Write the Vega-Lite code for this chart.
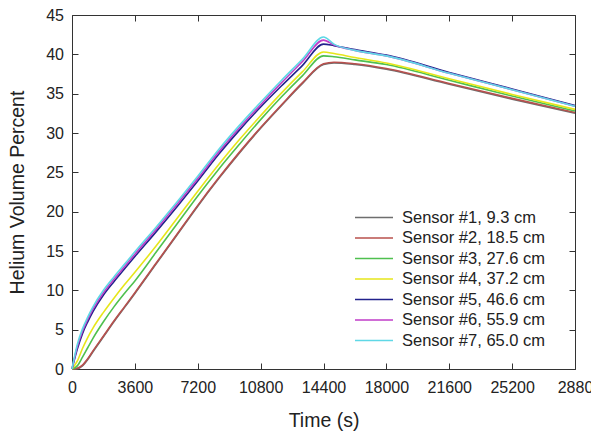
{
  "$schema": "https://vega.github.io/schema/vega-lite/v6.json",
  "width": 503,
  "height": 354,
  "autosize": "none",
  "padding": {"left": 72, "top": 15, "right": 16, "bottom": 70},
  "background": "white",
  "config": {
    "view": {"stroke": "#333", "strokeWidth": 1},
    "axis": {
      "grid": false,
      "domain": false,
      "offset": -6,
      "tickColor": "#333",
      "tickWidth": 1,
      "tickSize": 6,
      "labelFont": "Liberation Sans",
      "labelFontSize": 16,
      "labelColor": "#222",
      "titleFont": "Liberation Sans",
      "titleFontSize": 19.5,
      "titleFontWeight": "normal",
      "titleColor": "#222"
    },
    "legend": {
      "labelFont": "Liberation Sans",
      "labelFontSize": 16.5,
      "labelColor": "#222"
    }
  },
  "data": {
    "values": [
      {"t":0,"v":0,"s":"Sensor #1, 9.3 cm"},{"t":300,"v":0.05,"s":"Sensor #1, 9.3 cm"},{"t":600,"v":0.4,"s":"Sensor #1, 9.3 cm"},{"t":900,"v":1.2,"s":"Sensor #1, 9.3 cm"},{"t":1200,"v":2.2,"s":"Sensor #1, 9.3 cm"},{"t":1800,"v":4.1,"s":"Sensor #1, 9.3 cm"},{"t":2400,"v":6.0,"s":"Sensor #1, 9.3 cm"},{"t":3000,"v":7.8,"s":"Sensor #1, 9.3 cm"},{"t":3600,"v":9.6,"s":"Sensor #1, 9.3 cm"},{"t":4800,"v":13.3,"s":"Sensor #1, 9.3 cm"},{"t":6000,"v":17.0,"s":"Sensor #1, 9.3 cm"},{"t":7200,"v":20.7,"s":"Sensor #1, 9.3 cm"},{"t":8400,"v":24.2,"s":"Sensor #1, 9.3 cm"},{"t":9600,"v":27.5,"s":"Sensor #1, 9.3 cm"},{"t":10800,"v":30.6,"s":"Sensor #1, 9.3 cm"},{"t":12000,"v":33.5,"s":"Sensor #1, 9.3 cm"},{"t":13200,"v":36.3,"s":"Sensor #1, 9.3 cm"},{"t":14400,"v":38.7,"s":"Sensor #1, 9.3 cm"},{"t":15000,"v":38.9,"s":"Sensor #1, 9.3 cm"},{"t":16200,"v":38.7,"s":"Sensor #1, 9.3 cm"},{"t":18000,"v":38.1,"s":"Sensor #1, 9.3 cm"},{"t":21600,"v":36.2,"s":"Sensor #1, 9.3 cm"},{"t":25200,"v":34.3,"s":"Sensor #1, 9.3 cm"},{"t":28800,"v":32.5,"s":"Sensor #1, 9.3 cm"},
      {"t":0,"v":0,"s":"Sensor #2, 18.5 cm"},{"t":300,"v":0.1,"s":"Sensor #2, 18.5 cm"},{"t":600,"v":0.5,"s":"Sensor #2, 18.5 cm"},{"t":900,"v":1.3,"s":"Sensor #2, 18.5 cm"},{"t":1200,"v":2.3,"s":"Sensor #2, 18.5 cm"},{"t":1800,"v":4.2,"s":"Sensor #2, 18.5 cm"},{"t":2400,"v":6.1,"s":"Sensor #2, 18.5 cm"},{"t":3000,"v":7.9,"s":"Sensor #2, 18.5 cm"},{"t":3600,"v":9.7,"s":"Sensor #2, 18.5 cm"},{"t":4800,"v":13.4,"s":"Sensor #2, 18.5 cm"},{"t":6000,"v":17.1,"s":"Sensor #2, 18.5 cm"},{"t":7200,"v":20.8,"s":"Sensor #2, 18.5 cm"},{"t":8400,"v":24.3,"s":"Sensor #2, 18.5 cm"},{"t":9600,"v":27.6,"s":"Sensor #2, 18.5 cm"},{"t":10800,"v":30.7,"s":"Sensor #2, 18.5 cm"},{"t":12000,"v":33.6,"s":"Sensor #2, 18.5 cm"},{"t":13200,"v":36.4,"s":"Sensor #2, 18.5 cm"},{"t":14400,"v":38.8,"s":"Sensor #2, 18.5 cm"},{"t":15000,"v":39.0,"s":"Sensor #2, 18.5 cm"},{"t":16200,"v":38.8,"s":"Sensor #2, 18.5 cm"},{"t":18000,"v":38.2,"s":"Sensor #2, 18.5 cm"},{"t":21600,"v":36.3,"s":"Sensor #2, 18.5 cm"},{"t":25200,"v":34.4,"s":"Sensor #2, 18.5 cm"},{"t":28800,"v":32.6,"s":"Sensor #2, 18.5 cm"},
      {"t":0,"v":0,"s":"Sensor #3, 27.6 cm"},{"t":300,"v":0.4,"s":"Sensor #3, 27.6 cm"},{"t":600,"v":1.5,"s":"Sensor #3, 27.6 cm"},{"t":900,"v":2.7,"s":"Sensor #3, 27.6 cm"},{"t":1200,"v":3.9,"s":"Sensor #3, 27.6 cm"},{"t":1800,"v":6.0,"s":"Sensor #3, 27.6 cm"},{"t":2400,"v":7.9,"s":"Sensor #3, 27.6 cm"},{"t":3000,"v":9.6,"s":"Sensor #3, 27.6 cm"},{"t":3600,"v":11.2,"s":"Sensor #3, 27.6 cm"},{"t":4800,"v":14.8,"s":"Sensor #3, 27.6 cm"},{"t":6000,"v":18.4,"s":"Sensor #3, 27.6 cm"},{"t":7200,"v":22.0,"s":"Sensor #3, 27.6 cm"},{"t":8400,"v":25.4,"s":"Sensor #3, 27.6 cm"},{"t":9600,"v":28.6,"s":"Sensor #3, 27.6 cm"},{"t":10800,"v":31.7,"s":"Sensor #3, 27.6 cm"},{"t":12000,"v":34.6,"s":"Sensor #3, 27.6 cm"},{"t":13200,"v":37.3,"s":"Sensor #3, 27.6 cm"},{"t":14400,"v":39.8,"s":"Sensor #3, 27.6 cm"},{"t":15000,"v":39.7,"s":"Sensor #3, 27.6 cm"},{"t":16200,"v":39.3,"s":"Sensor #3, 27.6 cm"},{"t":18000,"v":38.7,"s":"Sensor #3, 27.6 cm"},{"t":21600,"v":36.7,"s":"Sensor #3, 27.6 cm"},{"t":25200,"v":34.7,"s":"Sensor #3, 27.6 cm"},{"t":28800,"v":32.8,"s":"Sensor #3, 27.6 cm"},
      {"t":0,"v":0,"s":"Sensor #4, 37.2 cm"},{"t":300,"v":1.0,"s":"Sensor #4, 37.2 cm"},{"t":600,"v":2.6,"s":"Sensor #4, 37.2 cm"},{"t":900,"v":4.0,"s":"Sensor #4, 37.2 cm"},{"t":1200,"v":5.2,"s":"Sensor #4, 37.2 cm"},{"t":1800,"v":7.2,"s":"Sensor #4, 37.2 cm"},{"t":2400,"v":9.0,"s":"Sensor #4, 37.2 cm"},{"t":3000,"v":10.7,"s":"Sensor #4, 37.2 cm"},{"t":3600,"v":12.3,"s":"Sensor #4, 37.2 cm"},{"t":4800,"v":15.6,"s":"Sensor #4, 37.2 cm"},{"t":6000,"v":19.1,"s":"Sensor #4, 37.2 cm"},{"t":7200,"v":22.6,"s":"Sensor #4, 37.2 cm"},{"t":8400,"v":26.0,"s":"Sensor #4, 37.2 cm"},{"t":9600,"v":29.2,"s":"Sensor #4, 37.2 cm"},{"t":10800,"v":32.2,"s":"Sensor #4, 37.2 cm"},{"t":12000,"v":35.1,"s":"Sensor #4, 37.2 cm"},{"t":13200,"v":37.8,"s":"Sensor #4, 37.2 cm"},{"t":14400,"v":40.3,"s":"Sensor #4, 37.2 cm"},{"t":15000,"v":40.1,"s":"Sensor #4, 37.2 cm"},{"t":16200,"v":39.6,"s":"Sensor #4, 37.2 cm"},{"t":18000,"v":38.9,"s":"Sensor #4, 37.2 cm"},{"t":21600,"v":36.9,"s":"Sensor #4, 37.2 cm"},{"t":25200,"v":34.9,"s":"Sensor #4, 37.2 cm"},{"t":28800,"v":33.0,"s":"Sensor #4, 37.2 cm"},
      {"t":0,"v":0,"s":"Sensor #5, 46.6 cm"},{"t":300,"v":2.5,"s":"Sensor #5, 46.6 cm"},{"t":600,"v":4.5,"s":"Sensor #5, 46.6 cm"},{"t":900,"v":6.0,"s":"Sensor #5, 46.6 cm"},{"t":1200,"v":7.3,"s":"Sensor #5, 46.6 cm"},{"t":1800,"v":9.4,"s":"Sensor #5, 46.6 cm"},{"t":2400,"v":11.1,"s":"Sensor #5, 46.6 cm"},{"t":3000,"v":12.7,"s":"Sensor #5, 46.6 cm"},{"t":3600,"v":14.3,"s":"Sensor #5, 46.6 cm"},{"t":4800,"v":17.4,"s":"Sensor #5, 46.6 cm"},{"t":6000,"v":20.6,"s":"Sensor #5, 46.6 cm"},{"t":7200,"v":23.9,"s":"Sensor #5, 46.6 cm"},{"t":8400,"v":27.3,"s":"Sensor #5, 46.6 cm"},{"t":9600,"v":30.4,"s":"Sensor #5, 46.6 cm"},{"t":10800,"v":33.3,"s":"Sensor #5, 46.6 cm"},{"t":12000,"v":36.0,"s":"Sensor #5, 46.6 cm"},{"t":13200,"v":38.6,"s":"Sensor #5, 46.6 cm"},{"t":14400,"v":41.3,"s":"Sensor #5, 46.6 cm"},{"t":15000,"v":41.1,"s":"Sensor #5, 46.6 cm"},{"t":16200,"v":40.6,"s":"Sensor #5, 46.6 cm"},{"t":18000,"v":39.9,"s":"Sensor #5, 46.6 cm"},{"t":21600,"v":37.7,"s":"Sensor #5, 46.6 cm"},{"t":25200,"v":35.6,"s":"Sensor #5, 46.6 cm"},{"t":28800,"v":33.5,"s":"Sensor #5, 46.6 cm"},
      {"t":0,"v":0,"s":"Sensor #6, 55.9 cm"},{"t":300,"v":2.8,"s":"Sensor #6, 55.9 cm"},{"t":600,"v":4.8,"s":"Sensor #6, 55.9 cm"},{"t":900,"v":6.3,"s":"Sensor #6, 55.9 cm"},{"t":1200,"v":7.6,"s":"Sensor #6, 55.9 cm"},{"t":1800,"v":9.7,"s":"Sensor #6, 55.9 cm"},{"t":2400,"v":11.4,"s":"Sensor #6, 55.9 cm"},{"t":3000,"v":13.0,"s":"Sensor #6, 55.9 cm"},{"t":3600,"v":14.6,"s":"Sensor #6, 55.9 cm"},{"t":4800,"v":17.7,"s":"Sensor #6, 55.9 cm"},{"t":6000,"v":20.9,"s":"Sensor #6, 55.9 cm"},{"t":7200,"v":24.2,"s":"Sensor #6, 55.9 cm"},{"t":8400,"v":27.6,"s":"Sensor #6, 55.9 cm"},{"t":9600,"v":30.7,"s":"Sensor #6, 55.9 cm"},{"t":10800,"v":33.6,"s":"Sensor #6, 55.9 cm"},{"t":12000,"v":36.4,"s":"Sensor #6, 55.9 cm"},{"t":13200,"v":39.1,"s":"Sensor #6, 55.9 cm"},{"t":14400,"v":41.8,"s":"Sensor #6, 55.9 cm"},{"t":15000,"v":41.2,"s":"Sensor #6, 55.9 cm"},{"t":16200,"v":40.5,"s":"Sensor #6, 55.9 cm"},{"t":18000,"v":39.8,"s":"Sensor #6, 55.9 cm"},{"t":21600,"v":37.6,"s":"Sensor #6, 55.9 cm"},{"t":25200,"v":35.5,"s":"Sensor #6, 55.9 cm"},{"t":28800,"v":33.4,"s":"Sensor #6, 55.9 cm"},
      {"t":0,"v":0,"s":"Sensor #7, 65.0 cm"},{"t":300,"v":3.1,"s":"Sensor #7, 65.0 cm"},{"t":600,"v":5.1,"s":"Sensor #7, 65.0 cm"},{"t":900,"v":6.6,"s":"Sensor #7, 65.0 cm"},{"t":1200,"v":7.9,"s":"Sensor #7, 65.0 cm"},{"t":1800,"v":10.0,"s":"Sensor #7, 65.0 cm"},{"t":2400,"v":11.7,"s":"Sensor #7, 65.0 cm"},{"t":3000,"v":13.3,"s":"Sensor #7, 65.0 cm"},{"t":3600,"v":14.9,"s":"Sensor #7, 65.0 cm"},{"t":4800,"v":18.0,"s":"Sensor #7, 65.0 cm"},{"t":6000,"v":21.2,"s":"Sensor #7, 65.0 cm"},{"t":7200,"v":24.5,"s":"Sensor #7, 65.0 cm"},{"t":8400,"v":27.9,"s":"Sensor #7, 65.0 cm"},{"t":9600,"v":31.0,"s":"Sensor #7, 65.0 cm"},{"t":10800,"v":33.9,"s":"Sensor #7, 65.0 cm"},{"t":12000,"v":36.7,"s":"Sensor #7, 65.0 cm"},{"t":13200,"v":39.4,"s":"Sensor #7, 65.0 cm"},{"t":14400,"v":42.2,"s":"Sensor #7, 65.0 cm"},{"t":15000,"v":41.3,"s":"Sensor #7, 65.0 cm"},{"t":16200,"v":40.5,"s":"Sensor #7, 65.0 cm"},{"t":18000,"v":39.8,"s":"Sensor #7, 65.0 cm"},{"t":21600,"v":37.6,"s":"Sensor #7, 65.0 cm"},{"t":25200,"v":35.5,"s":"Sensor #7, 65.0 cm"},{"t":28800,"v":33.4,"s":"Sensor #7, 65.0 cm"}
    ]
  },
  "layer": [
    {
      "mark": {"type": "line", "strokeWidth": 1.6, "interpolate": "monotone"},
      "encoding": {
        "x": {"field": "t", "type": "quantitative", "title": "Time (s)",
              "scale": {"domain": [0, 28800], "nice": false},
              "axis": {"values": [0,3600,7200,10800,14400,18000,21600,25200,28800], "labelPadding": 10, "titlePadding": 16, "labelFlush": false,
                       "labelExpr": "datum.value == 28800 ? '2880' : datum.label", "format": "d"}},
        "y": {"field": "v", "type": "quantitative", "title": "Helium Volume Percent",
              "scale": {"domain": [0, 45], "nice": false},
              "axis": {"values": [0,5,10,15,20,25,30,35,40,45], "labelPadding": 8.5, "titlePadding": 18, "labelFlush": false}},
        "color": {"field": "s", "type": "nominal", "title": null,
                  "scale": {"range": ["#6e6e6e", "#b8504d", "#4fc04f", "#e6e61a", "#22228c", "#c03cc8", "#5fd8e6"]},
                  "legend": {"orient": "none", "legendX": 291.5, "legendY": 192, "symbolType": "M-2,0H2", "symbolSize": 361, "symbolStrokeWidth": 1.6, "labelOffset": 17.5, "rowPadding": 1.5, "padding": 0}}
      }
    },
    {
      "mark": {"type": "line", "opacity": 0},
      "encoding": {
        "x": {"field": "t", "type": "quantitative",
              "axis": {"orient": "top", "labels": false, "title": null, "values": [0,3600,7200,10800,14400,18000,21600,25200,28800]}},
        "y": {"field": "v", "type": "quantitative",
              "axis": {"orient": "right", "labels": false, "title": null, "values": [0,5,10,15,20,25,30,35,40,45]}}
      }
    }
  ],
  "resolve": {"axis": {"x": "independent", "y": "independent"}}
}
